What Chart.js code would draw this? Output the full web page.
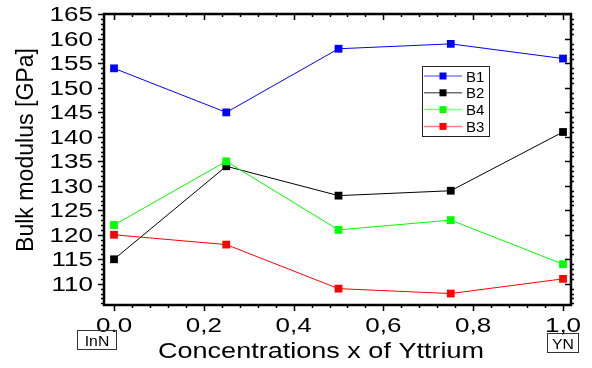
<!DOCTYPE html>
<html>
<head>
<meta charset="utf-8">
<script src="https://cdn.jsdelivr.net/npm/chart.js@4.4.0/dist/chart.umd.min.js"></script>
<style>
    html, body { margin: 0; padding: 0; background: #fff; }
    canvas { display: block; }
</style>
</head>
<body>
<canvas id="bulk-modulus-chart" width="592" height="368"></canvas>
<script>
const concentrations = [0, 0.25, 0.5, 0.75, 1.0];
const seriesNames = ['B1', 'B2', 'B4', 'B3'];
const b1Values = [154, 145, 158, 159, 156];
const b2Values = [115, 134, 128, 129, 141];
const b4Values = [122, 135, 121, 123, 114];
const b3Values = [120, 118, 109, 108, 111];
const xTickValues = [0, 0.2, 0.4, 0.6, 0.8, 1.0];
const xTickLabels = ['0.0', '0,2', '0,4', '0,6', '0,8', '1,0'];
const yTickValues = [110, 115, 120, 125, 130, 135, 140, 145, 150, 155, 160, 165];

const seriesValues = [b1Values, b2Values, b4Values, b3Values];
const seriesColors = ['#0000ff', '#000000', '#00ff00', '#ff0000'];
const legendLineColors = ['#8080ff', '#707070', '#80ff80', '#ff8080'];
const FONT = '"Liberation Sans", Arial, sans-serif';

// draw text squeezed/stretched horizontally to a given width (or factor)
function drawText(ctx, text, x, y, size, align, stretch) {
    ctx.save();
    ctx.font = `${size}px ${FONT}`;
    ctx.textAlign = align;
    ctx.textBaseline = 'alphabetic';
    ctx.translate(x, y);
    ctx.scale(stretch, 1);
    ctx.fillText(text, 0, 0);
    ctx.restore();
}

function fitText(ctx, text, x, y, size, width) {
    ctx.font = `${size}px ${FONT}`;
    const w = ctx.measureText(text).width;
    drawText(ctx, text, x, y, size, 'center', width / w);
}

const framePlugin = {
    id: 'frame',
    afterDraw(chart) {
        const { ctx, chartArea: a } = chart;
        const x = chart.scales.x;
        const y = chart.scales.y;
        ctx.save();
        ctx.strokeStyle = '#000';
        ctx.fillStyle = '#000';

        // ticks
        ctx.lineWidth = 1.5;
        ctx.beginPath();
        for (let i = 0; i <= 25; i++) {
            const px = Math.round(x.getPixelForValue(i * 0.04)) + 0.5;
            const major = i % 5 === 0;
            ctx.moveTo(px, a.bottom);
            ctx.lineTo(px, a.bottom + (major ? 6 : 3));
            ctx.moveTo(px, a.top);
            ctx.lineTo(px, a.top + (major ? 6 : 3));
        }
        for (let v = Math.ceil(y.min); v <= Math.floor(y.max); v++) {
            const py = Math.round(y.getPixelForValue(v)) + 0.5;
            const major = v % 5 === 0;
            ctx.moveTo(a.left, py);
            ctx.lineTo(a.left - (major ? 6 : 3), py);
            if (major) {
                ctx.moveTo(a.right, py);
                ctx.lineTo(a.right - 6, py);
            } else {
                ctx.moveTo(a.right, py);
                ctx.lineTo(a.right + 3, py);
            }
        }
        ctx.stroke();

        // frame
        ctx.lineWidth = 2.5;
        ctx.strokeRect(a.left, a.top, a.right - a.left, a.bottom - a.top);

        // tick labels
        yTickValues.forEach((v) => {
            drawText(ctx, String(v), a.left - 11, y.getPixelForValue(v) + 7, 20, 'right', 1.3);
        });
        xTickValues.forEach((v, i) => {
            drawText(ctx, xTickLabels[i], x.getPixelForValue(v), a.bottom + 27, 20.5, 'center', 1.27);
        });

        // axis titles
        fitText(ctx, 'Concentrations x of Yttrium', 321, 358, 22, 326);
        ctx.save();
        ctx.translate(33, 150);
        ctx.rotate(-Math.PI / 2);
        fitText(ctx, 'Bulk modulus [GPa]', 0, 0, 23, 204);
        ctx.restore();

        // end-member boxes
        ctx.lineWidth = 1;
        ctx.strokeStyle = '#333';
        ctx.strokeRect(77.5, 330.5, 39, 19);
        ctx.strokeRect(547.5, 333.5, 31, 19);
        drawText(ctx, 'InN', 97, 346, 15, 'center', 1.05);
        drawText(ctx, 'YN', 563, 349, 15, 'center', 1.05);

        // legend
        ctx.strokeStyle = '#222';
        ctx.strokeRect(422.5, 66.5, 67, 70);
        seriesNames.forEach((name, i) => {
            const ly = 76 + i * 16.8;
            ctx.strokeStyle = legendLineColors[i];
            ctx.lineWidth = 1.5;
            ctx.beginPath();
            ctx.moveTo(424, ly);
            ctx.lineTo(462, ly);
            ctx.stroke();
            ctx.fillStyle = seriesColors[i];
            ctx.fillRect(439.5, ly - 3.5, 7, 7);
            ctx.fillStyle = '#000';
            drawText(ctx, name, 466, ly + 5.5, 15, 'left', 1.0);
        });
        ctx.restore();
    },
};

const canvas = document.getElementById('bulk-modulus-chart');
new Chart(canvas, {
    type: 'scatter',
    data: {
        datasets: seriesNames.map((name, i) => ({
            label: name,
            data: concentrations.map((c, j) => ({ x: c, y: seriesValues[i][j] })),
            showLine: true,
            borderColor: seriesColors[i],
            backgroundColor: seriesColors[i],
            borderWidth: 1,
            pointStyle: 'rect',
            pointRadius: 5.5,
            pointBorderWidth: 0,
            pointHoverRadius: 5.5,
            order: seriesNames.length - i,
        })),
    },
    options: {
        responsive: false,
        devicePixelRatio: 1,
        animation: false,
        layout: {
            padding: { left: 104, right: 21, top: 14, bottom: 63 },
        },
        plugins: {
            legend: { display: false },
            tooltip: { enabled: false },
        },
        scales: {
            x: {
                type: 'linear',
                display: false,
                min: -0.0223,
                max: 1.0178,
            },
            y: {
                type: 'linear',
                display: false,
                min: 105.66,
                max: 165.1,
            },
        },
    },
    plugins: [framePlugin],
});
</script>
</body>
</html>
